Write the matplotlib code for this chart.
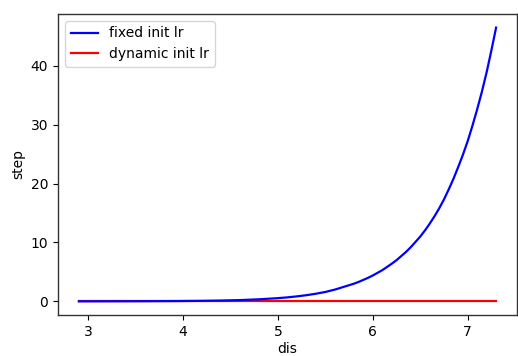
import matplotlib
matplotlib.use("Agg")
import matplotlib.pyplot as plt

# data
fixed_x = [2.9, 3.2, 3.5, 3.8, 4.0, 4.2, 4.4, 4.6, 4.8, 5.0, 5.1, 5.2, 5.3, 5.4,
           5.5, 5.55, 5.6, 5.65, 5.7, 5.75, 5.8, 5.85, 5.9, 5.95, 6.0, 6.05, 6.1,
           6.15, 6.2, 6.25, 6.3, 6.35, 6.4, 6.45, 6.5, 6.55, 6.6, 6.65, 6.7, 6.75,
           6.8, 6.85, 6.9, 6.95, 7.0, 7.05, 7.1, 7.15, 7.2, 7.25, 7.3]
fixed_y = [0.0, 0.01, 0.02, 0.04, 0.06, 0.09, 0.14, 0.22, 0.35, 0.55, 0.68, 0.85,
           1.05, 1.3, 1.6, 1.8, 2.0, 2.25, 2.5, 2.75, 3.0, 3.3, 3.65, 4.0, 4.4,
           4.85, 5.3, 5.85, 6.4, 7.0, 7.7, 8.4, 9.2, 10.1, 11.0, 12.05, 13.2,
           14.45, 15.8, 17.3, 19.0, 20.8, 22.8, 24.9, 27.2, 29.8, 32.6, 35.6,
           38.9, 42.6, 46.5]
dynamic_x = [2.9, 7.3]
dynamic_y = [0.0, 0.0]

fig = plt.figure(figsize=(5.18, 3.56), dpi=100)
ax = fig.add_axes([0.112, 0.115, 0.886, 0.846])
ax.plot(fixed_x, fixed_y, color="blue", lw=1.6, label="fixed init lr", zorder=3)
ax.plot(dynamic_x, dynamic_y, color="red", lw=1.6, label="dynamic init lr", zorder=2)
ax.set_xlabel("dis", fontsize=10, labelpad=2)
ax.set_ylabel("step", fontsize=10)
ax.tick_params(labelsize=10)
ax.set_yticks([0, 10, 20, 30, 40])
ax.set_xticks([3, 4, 5, 6, 7])
for s in ax.spines.values():
    s.set_color("#333333")
    s.set_linewidth(1.0)
ax.legend(loc="upper left", fontsize=10)
fig.savefig("out.png", dpi=100)
